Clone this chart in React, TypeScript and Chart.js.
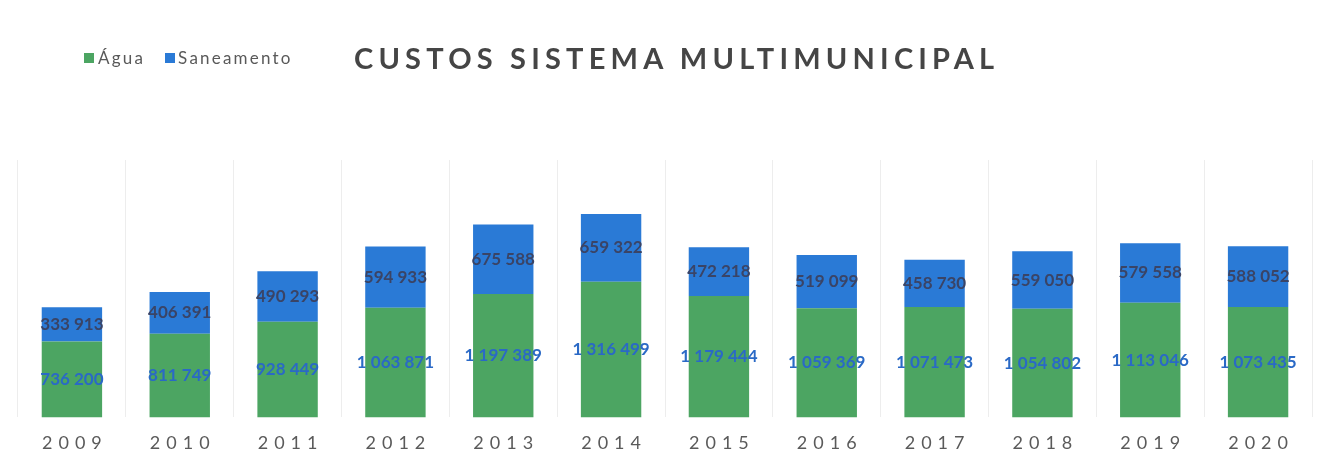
import React, { useEffect, useRef } from "react";
import { Chart, registerables } from "chart.js";

Chart.register(...registerables);

const years = ["2009", "2010", "2011", "2012", "2013", "2014", "2015", "2016", "2017", "2018", "2019", "2020"];
const agua = [736200, 811749, 928449, 1063871, 1197389, 1316499, 1179444, 1059369, 1071473, 1054802, 1113046, 1073435];
const saneamento = [333913, 406391, 490293, 594933, 675588, 659322, 472218, 519099, 458730, 559050, 579558, 588052];

const GREEN = "#4ca562";
const BLUE = "#2a7ad6";
const AGUA_LABEL = "#2a69c6";
const SAN_LABEL = "#3a4466";

const fmt = (v: number) => {
  const s = String(Math.round(v));
  return s.replace(/\B(?=(\d{3})+(?!\d))/g, " ");
};

const labelPlugin = {
  id: "segLabels",
  afterDatasetsDraw(chart: any) {
    const ctx = chart.ctx;
    ctx.save();
    (ctx as any).letterSpacing = "0px";
    ctx.font = "bold 17px Lato, 'Open Sans', sans-serif";
    ctx.textAlign = "center";
    ctx.textBaseline = "middle";
    chart.data.datasets.forEach((ds: any, di: number) => {
      const meta = chart.getDatasetMeta(di);
      ctx.fillStyle = di === 0 ? AGUA_LABEL : SAN_LABEL;
      meta.data.forEach((bar: any, i: number) => {
        const p = bar.getProps(["x", "y", "base"], true);
        ctx.fillText(fmt(ds.data[i]), p.x, (p.y + p.base) / 2);
      });
    });
    ctx.restore();
  },
};

const spacingPlugin = {
  id: "tickSpacing",
  beforeDraw(chart: any) {
    (chart.ctx as any).letterSpacing = "6px";
  },
  afterDraw(chart: any) {
    (chart.ctx as any).letterSpacing = "0px";
  },
};

export default function App() {
  const ref = useRef<HTMLCanvasElement | null>(null);
  useEffect(() => {
    if (!ref.current) return;
    const chart = new Chart(ref.current, {
      type: "bar",
      data: {
        labels: years,
        datasets: [
          { label: "Água", data: agua, backgroundColor: GREEN, barPercentage: 0.56, categoryPercentage: 1 },
          { label: "Saneamento", data: saneamento, backgroundColor: BLUE, barPercentage: 0.56, categoryPercentage: 1 },
        ],
      },
      options: {
        animation: false,
        responsive: false,
        maintainAspectRatio: false,
        layout: { padding: { left: 18, right: 25, top: 160, bottom: 1 } },
        plugins: { legend: { display: false }, title: { display: false }, tooltip: { enabled: false } },
        scales: {
          x: {
            stacked: true,
            border: { display: false },
            grid: { display: true, color: "#ededed", lineWidth: 1, drawTicks: false, offset: true },
            ticks: {
              color: "#5a5a5a",
              font: { size: 18, family: "Lato, 'Open Sans', sans-serif" },
              padding: 15,
              labelOffset: 3,
            },
          },
          y: { stacked: true, display: false, min: 0, max: 2500000 },
        },
      },
      plugins: [spacingPlugin, labelPlugin],
    });
    return () => chart.destroy();
  }, []);

  const legendText: React.CSSProperties = {
    fontFamily: "Lato, 'Open Sans', sans-serif",
    fontSize: 17,
    color: "#595959",
    letterSpacing: "2.2px",
  };

  return (
    <div style={{ position: "fixed", left: 0, top: 0, width: 1337, height: 470, background: "#fff" }}>
      <canvas ref={ref} width={1337} height={470} style={{ position: "absolute", left: 0, top: 0 }} />
      <div style={{ position: "absolute", left: 84, top: 47, display: "flex", alignItems: "center", ...legendText }}>
        <span style={{ display: "inline-block", width: 10, height: 10, background: GREEN, marginRight: 4 }} />
        <span>Água</span>
        <span style={{ display: "inline-block", width: 10, height: 10, background: BLUE, marginLeft: 20, marginRight: 3 }} />
        <span>Saneamento</span>
      </div>
      <div
        style={{
          position: "absolute",
          left: 354,
          top: 40,
          fontFamily: "Lato, 'Open Sans', sans-serif",
          fontWeight: 700,
          fontSize: 29,
          letterSpacing: "5.2px",
          color: "#454545",
          whiteSpace: "nowrap",
        }}
      >
        CUSTOS SISTEMA MULTIMUNICIPAL
      </div>
    </div>
  );
}
